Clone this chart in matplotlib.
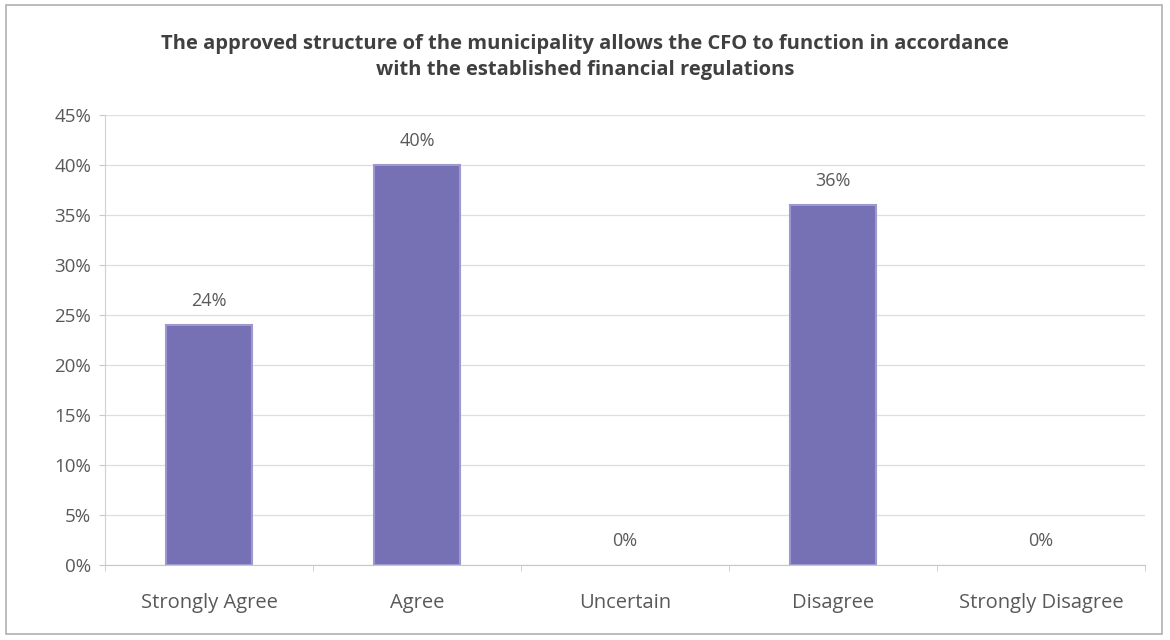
import matplotlib
matplotlib.use("Agg")
import matplotlib.pyplot as plt
from matplotlib.patches import Rectangle

categories = ["Strongly Agree", "Agree", "Uncertain", "Disagree", "Strongly Disagree"]
values = [24, 40, 0, 36, 0]
yticks = [0, 5, 10, 15, 20, 25, 30, 35, 40, 45]
title = ("The approved structure of the municipality allows the CFO to function in accordance\n"
         "with the established financial regulations")

plt.rcParams['font.family'] = ['Open Sans', 'DejaVu Sans']

fig = plt.figure(figsize=(11.7, 6.4), dpi=100)
fig.patches.append(Rectangle((0.005, 0.01), 0.988, 0.982, transform=fig.transFigure,
                             fill=False, edgecolor='#b0b0b0', linewidth=1.2))

ax = fig.add_axes([0.0897, 0.117, 0.889, 0.703])
x = list(range(len(categories)))
bars = ax.bar(x, values, width=0.41, color='#7670b5', edgecolor='#9d98d0', linewidth=1.5, zorder=3)
for b, v in zip(bars, values):
    if v == 0:
        b.set_linewidth(0)

for xi, v in zip(x, values):
    ax.annotate(f"{v}%", (xi, v), xytext=(0, 11), textcoords='offset points',
                ha='center', va='bottom', fontsize=13, color='#595959')

ax.set_xlim(-0.5, len(categories) - 0.5)
ax.set_ylim(0, 45)
ax.set_yticks(yticks)
ax.set_yticklabels([f"{t}%" for t in yticks])
ax.set_xticks(x)
ax.set_xticklabels(categories)
ax.set_xticks([i + 0.5 for i in range(-1, len(categories))], minor=True)
ax.tick_params(axis='x', which='major', length=0, pad=20, labelsize=14.5, labelcolor='#595959')
ax.tick_params(axis='x', which='minor', length=4, color='#c8c8c8')
ax.tick_params(axis='y', length=4, color='#c8c8c8', labelsize=13.5, labelcolor='#595959', pad=6)

ax.grid(axis='y', color='#dedede', linewidth=0.9, zorder=0)
for s in ['top', 'right']:
    ax.spines[s].set_visible(False)
ax.spines['left'].set_color('#d0d0d0')
ax.spines['bottom'].set_color('#c8c8c8')

fig.text(0.5, 0.911, title, ha='center', va='center', fontsize=14.5, fontweight='bold',
         color='#404040', linespacing=1.45)

fig.savefig("out.png", dpi=100)
